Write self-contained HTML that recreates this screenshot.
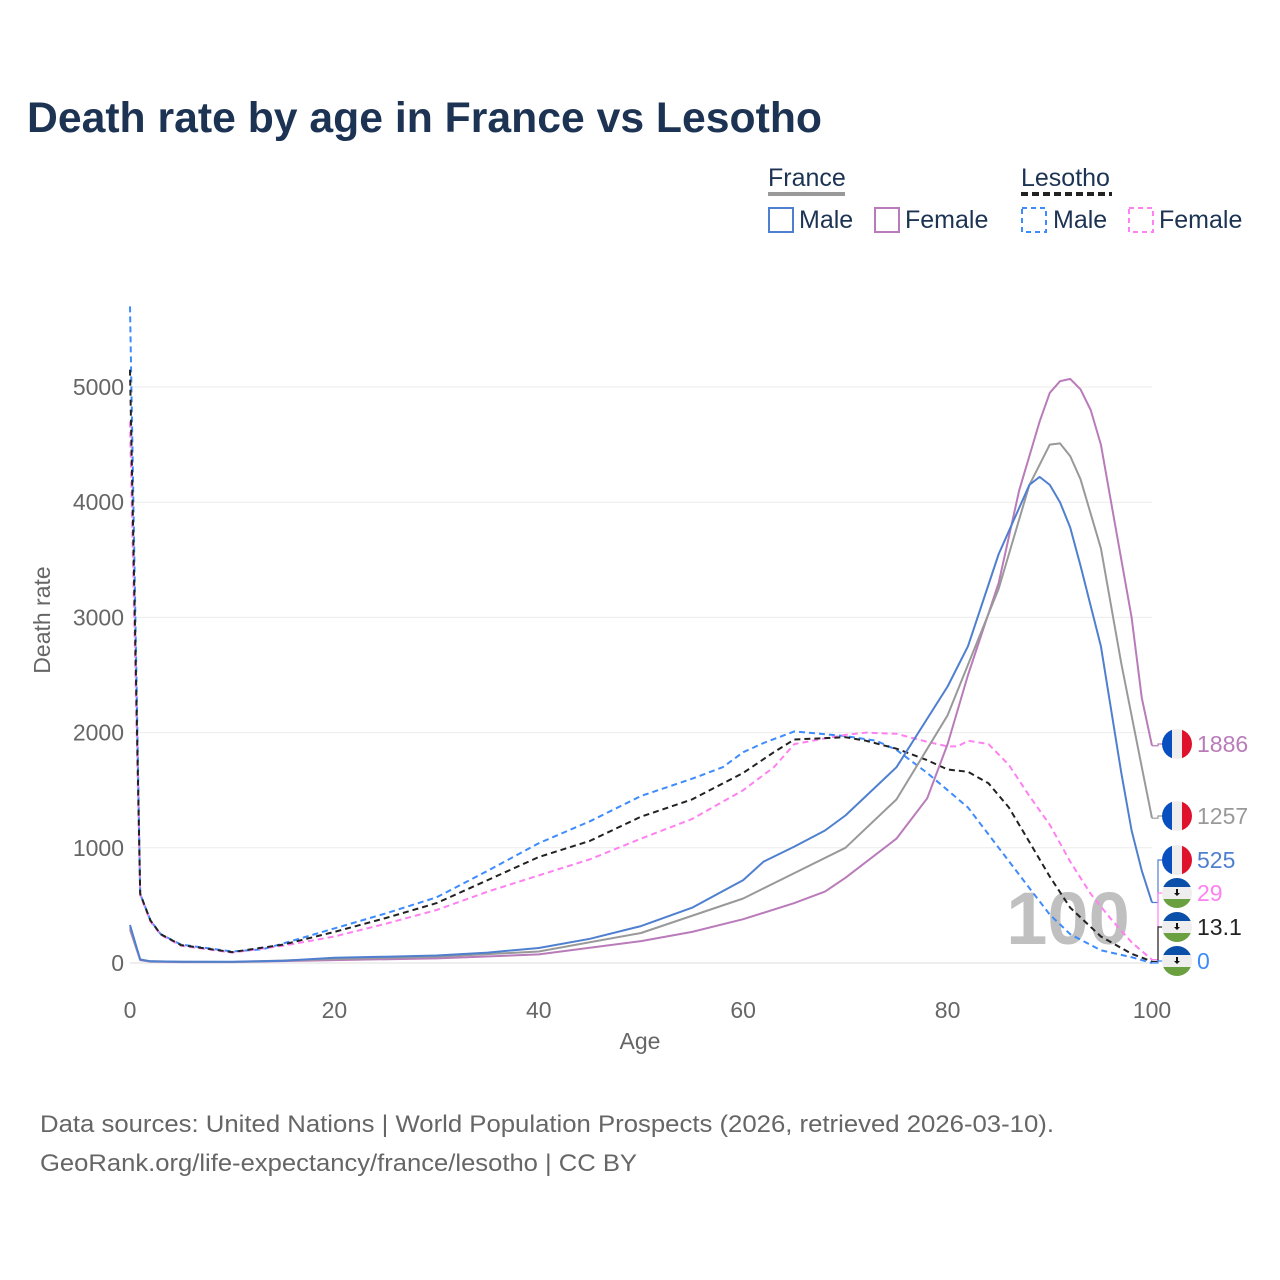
<!DOCTYPE html>
<html><head><meta charset="utf-8">
<style>
body{margin:0;background:#fff;font-family:"Liberation Sans",sans-serif;}
#root{position:relative;width:1280px;height:1280px;overflow:hidden;background:#fff;}
svg text{font-family:"Liberation Sans",sans-serif;}
</style></head>
<body>
<div id="root">
<svg id="chart" width="1280" height="1280" viewBox="0 0 1280 1280">
<text x="27" y="132" font-size="43" font-weight="bold" fill="#1c3353" textLength="795" lengthAdjust="spacingAndGlyphs">Death rate by age in France vs Lesotho</text>
<g>
<text x="768" y="186" font-size="25" fill="#1c3353">France</text>
<line x1="768" x2="845" y1="194" y2="194" stroke="#999" stroke-width="4"/>
<rect x="769" y="208" width="24" height="24" fill="none" stroke="#4f7fcf" stroke-width="2"/>
<text x="799" y="228" font-size="25" fill="#1c3353">Male</text>
<rect x="875" y="208" width="24" height="24" fill="none" stroke="#b97bb9" stroke-width="2"/>
<text x="905" y="228" font-size="25" fill="#1c3353">Female</text>
<text x="1021" y="186" font-size="25" fill="#1c3353">Lesotho</text>
<line x1="1021" x2="1112" y1="194" y2="194" stroke="#222" stroke-width="4" stroke-dasharray="7,4"/>
<rect x="1022" y="208" width="24" height="24" fill="none" stroke="#3d8bfd" stroke-width="2" stroke-dasharray="5,4"/>
<text x="1053" y="228" font-size="25" fill="#1c3353">Male</text>
<rect x="1129" y="208" width="24" height="24" fill="none" stroke="#ff80f0" stroke-width="2" stroke-dasharray="5,4"/>
<text x="1159" y="228" font-size="25" fill="#1c3353">Female</text>
</g>
<g id="grid"></g>
<text x="1068" y="944" font-size="74" font-weight="bold" fill="#c0c0c0" text-anchor="middle">100</text>
<g id="series"></g>
<g id="ends"></g>
<text x="640" y="1049" font-size="23" fill="#666" text-anchor="middle">Age</text>
<text transform="translate(50,620) rotate(-90)" font-size="23" fill="#666" text-anchor="middle">Death rate</text>
<text x="40" y="1132" font-size="24" fill="#666" textLength="1014" lengthAdjust="spacingAndGlyphs">Data sources: United Nations | World Population Prospects (2026, retrieved 2026-03-10).</text>
<text x="40" y="1171" font-size="24" fill="#666" textLength="597" lengthAdjust="spacingAndGlyphs">GeoRank.org/life-expectancy/france/lesotho | CC BY</text>
</svg>
</div>
<script>
const yTicks=[0,1000,2000,3000,4000,5000];
const xTicks=[0,20,40,60,80,100];
const frMaleAges=[0,1,2,5,10,15,20,25,30,35,40,45,50,55,60,62,65,68,70,75,80,82,85,88,89,90,91,92,93,95,97,98,99,100];
const frMaleVals=[330,30,15,10,10,20,45,55,65,90,130,210,320,480,720,880,1010,1150,1280,1700,2400,2750,3550,4150,4220,4150,4000,3780,3450,2750,1650,1150,800,525];
const frTotAges=[0,1,2,5,10,20,30,40,50,60,65,70,75,80,85,88,90,91,92,93,95,97,99,100];
const frTotVals=[310,30,15,10,9,35,55,100,260,560,780,1000,1420,2150,3250,4150,4500,4510,4400,4200,3600,2600,1700,1257];
const frFemAges=[0,1,2,5,10,20,30,40,50,55,60,65,68,70,75,78,80,82,85,87,89,90,91,92,93,94,95,96,98,99,100];
const frFemVals=[290,25,12,8,8,25,40,75,190,270,380,520,620,740,1080,1430,1900,2500,3300,4100,4700,4950,5050,5070,4980,4800,4500,4000,3000,2300,1886];
const lsMaleAges=[0,1,2,3,5,10,13,15,20,25,30,35,40,45,50,55,58,60,62,65,70,73,75,78,80,82,85,88,90,92,95,98,100];
const lsMaleVals=[5700,600,370,250,160,100,120,170,300,430,570,800,1040,1230,1450,1600,1700,1830,1910,2010,1970,1930,1850,1650,1500,1350,1000,650,420,250,110,50,0];
const lsTotAges=[0,1,2,3,5,10,15,20,25,30,35,40,45,50,55,60,63,65,70,72,75,78,80,82,84,86,88,90,92,95,98,100];
const lsTotVals=[5150,600,370,250,155,95,160,270,390,520,720,920,1060,1270,1420,1650,1830,1940,1960,1930,1860,1760,1680,1660,1560,1350,1050,750,480,230,80,13.1];
const lsFemAges=[0,1,2,3,5,10,15,20,25,30,35,40,45,50,55,60,63,65,68,70,72,75,78,80,81,82,84,86,88,90,92,94,96,98,100];
const lsFemVals=[4700,590,360,245,150,90,150,230,340,460,620,760,900,1080,1250,1500,1700,1900,1950,1980,2000,1990,1920,1880,1880,1930,1900,1720,1450,1200,880,600,380,180,29];
const endLabels=["1886","1257","525","29","13.1","0"];

const NS="http://www.w3.org/2000/svg";
const X=a=>130+a*10.22;
const Y=v=>963-v*0.1152;
function mk(tag,attrs,parent){const e=document.createElementNS(NS,tag);for(const k in attrs)e.setAttribute(k,attrs[k]);parent.appendChild(e);return e;}
const grid=document.getElementById('grid');
yTicks.forEach(t=>{
  const l=mk('line',{x1:130,x2:1152,y1:Y(t),y2:Y(t),stroke:t===0?'#ddd':'#ebebeb','stroke-width':1},grid);
  
  
  const tx=mk('text',{x:124,y:Y(t)+8,'font-size':23,fill:'#666','text-anchor':'end'},grid);
  tx.textContent=t;
  
  
});
xTicks.forEach(t=>{
  const tx=mk('text',{x:X(t),y:1018,'font-size':23,fill:'#666','text-anchor':'middle'},grid);
  tx.textContent=t;
  
  
});
const series=document.getElementById('series');
const defs=[
 [lsMaleAges,lsMaleVals,'#3d8bfd','6,4','lesotho-male-line'],
 [lsFemAges,lsFemVals,'#ff80f0','6,4','lesotho-female-line'],
 [lsTotAges,lsTotVals,'#222','6,4','lesotho-total-line'],
 [frFemAges,frFemVals,'#b97bb9','','france-female-line'],
 [frTotAges,frTotVals,'#999','','france-total-line'],
 [frMaleAges,frMaleVals,'#4f7fcf','','france-male-line']
];
defs.forEach(([a,v,c,d,n])=>{
  const pts=a.map((x,i)=>X(x).toFixed(1)+','+Y(v[i]).toFixed(1)).join(' ');
  const p=mk('polyline',{points:pts,fill:'none',stroke:c,'stroke-width':2,'stroke-dasharray':d,'stroke-linejoin':'round'},series);
  
  
});
const ends=document.getElementById('ends');
const endInfo=[
 [frFemVals,744,'#b97bb9','fr'],[frTotVals,816,'#999','fr'],[frMaleVals,860,'#4f7fcf','fr'],
 [lsFemVals,893,'#ff80f0','ls'],[lsTotVals,927,'#222','ls'],[lsMaleVals,961,'#3d8bfd','ls']];
endInfo.forEach(([vals,fy,c,f],i)=>{
  const vy=Y(vals[vals.length-1]);
  const pl=mk('polyline',{points:`1152,${vy} 1158,${vy} 1158,${fy} 1164,${fy}`,fill:'none',stroke:c,'stroke-width':1.2},ends);
  
  
  const g=mk('g',{},ends);
  
  
  const cx=1177,r=15;
  const cp=mk('clipPath',{id:'cp'+i},g);mk('circle',{cx:cx,cy:fy,r:r},cp);
  if(f==='fr'){
    mk('rect',{x:cx-r,y:fy-r,width:10,height:30,fill:'#0a4fbf','clip-path':`url(#cp${i})`},g);
    mk('rect',{x:cx-5,y:fy-r,width:10,height:30,fill:'#eee','clip-path':`url(#cp${i})`},g);
    mk('rect',{x:cx+5,y:fy-r,width:10,height:30,fill:'#e0112b','clip-path':`url(#cp${i})`},g);
  }else{
    mk('rect',{x:cx-r,y:fy-r,width:30,height:9,fill:'#0a4fa8','clip-path':`url(#cp${i})`},g);
    mk('rect',{x:cx-r,y:fy-6,width:30,height:13,fill:'#eee','clip-path':`url(#cp${i})`},g);
    mk('rect',{x:cx-r,y:fy+6,width:30,height:9,fill:'#6aa040','clip-path':`url(#cp${i})`},g);
    mk('path',{d:`M${cx-1} ${fy-4}h2v4h2l-3,3l-3,-3h2z`,fill:'#111'},g);
  }
  const t=mk('text',{x:1197,y:fy+8,'font-size':23,fill:c},ends);
  t.textContent=endLabels[i];
  
  
});
</script>
</body></html>
